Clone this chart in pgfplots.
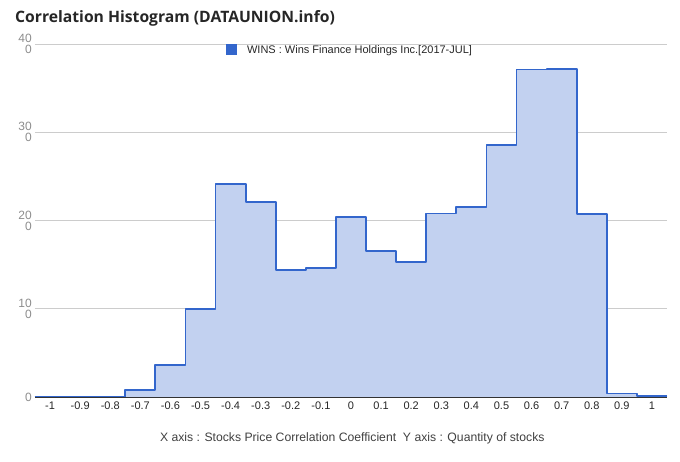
\documentclass[border=0pt]{standalone}
\usepackage{fontspec}
\setmainfont{Liberation Sans}
\newfontfamily\titlefont{Open Sans}
\usepackage{pgfplots}
\pgfplotsset{compat=1.18}
\definecolor{wline}{HTML}{3366CC}
\definecolor{wfill}{HTML}{C2D1F0}
\pgfplotstableread{
edge count
-1.05 0
-0.95 0
-0.85 0
-0.75 0.75
-0.65 3.6
-0.55 10
-0.45 24.1
-0.35 22.1
-0.25 14.4
-0.15 14.6
-0.05 20.4
0.05 16.5
0.15 15.3
0.25 20.8
0.35 21.5
0.45 28.6
0.55 37.1
0.65 37.2
0.75 20.7
0.85 0.4
0.95 0.15
1.05 0.15
}\hist
\begin{document}
\begin{tikzpicture}[x=1pt,y=1pt]
\useasboundingbox (0,0) rectangle (680,462);
\node[anchor=base west, font=\titlefont\bfseries\fontsize{15.7}{18}\selectfont, text=black!85, inner sep=0] at (15,439) {Correlation Histogram (DATAUNION.info)};
\begin{axis}[at={(35pt,65pt)}, anchor=south west, width=632pt, height=353pt, scale only axis,
  xmin=-1.05, xmax=1.05, ymin=0, ymax=40,
  axis x line*=bottom, axis y line*=left,
  x axis line style={-, draw=black!80, line width=1.3pt},
  y axis line style={draw=none},
  tick style={draw=none},
  ymajorgrids, grid style={draw=black!20, line width=0.7pt},
  ytick={0,10,20,30,40},
  yticklabels={0,{10\\0},{20\\0},{30\\0},{40\\0}},
  yticklabel style={align=right, text=black!45, font=\fontsize{12}{11}\selectfont, inner sep=1pt, xshift=-2pt},
  xtick={-1,-0.9,-0.8,-0.7,-0.6,-0.5,-0.4,-0.3,-0.2,-0.1,0,0.1,0.2,0.3,0.4,0.5,0.6,0.7,0.8,0.9,1},
  xticklabels={-1,-0.9,-0.8,-0.7,-0.6,-0.5,-0.4,-0.3,-0.2,-0.1,0,0.1,0.2,0.3,0.4,0.5,0.6,0.7,0.8,0.9,1},
  xticklabel style={text=black!85, font=\fontsize{11}{13}\selectfont, yshift=-1pt},
  xlabel={X axis : Stocks Price Correlation Coefficient\ \ Y axis : Quantity of stocks},
  xlabel style={at={(axis description cs:0.502,0)}, anchor=center, yshift=-41pt, text=black!75, font=\fontsize{12.2}{14}\selectfont},
  legend style={at={(axis description cs:0.302,0.983)}, anchor=west, draw=none, fill=none, font=\fontsize{11}{12}\selectfont, text=black!85, inner sep=0pt},
  legend image code/.code={\path[draw=none, fill=none] (0pt,0pt) rectangle (19pt,0.1pt); \fill[wline, draw=none] (0pt,-5.5pt) rectangle (11pt,5.5pt);},
  legend cell align=left,
]
\addplot[const plot, draw=none, fill=wfill, forget plot] table[x=edge, y=count] {\hist} \closedcycle;
\addplot[const plot, draw=wline, line width=1.8pt, line join=round] table[x=edge, y=count] {\hist};
\addlegendentry{WINS : Wins Finance Holdings Inc.[2017-JUL]}
\end{axis}
\end{tikzpicture}
\end{document}
